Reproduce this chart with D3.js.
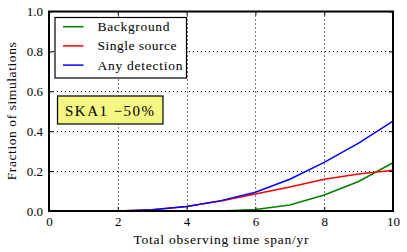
<!DOCTYPE html>
<html>
<head>
<meta charset="utf-8">
<script src="https://cdn.jsdelivr.net/npm/d3@7"></script>
<style>
  body { margin: 0; background: #fff; }
</style>
</head>
<body>
<div id="chart"></div>
<script>
"use strict";
// values, one point per year
let years = [0, 1, 2, 3, 4, 5, 6, 7, 8, 9, 10];
let background = [0, 0, 0, 0, 0, 0, 0.008, 0.03, 0.08, 0.148, 0.242];
let singleSource = [0, 0, 0, 0.006, 0.023, 0.05, 0.085, 0.12, 0.159, 0.185, 0.204];
let anyDetection = [0, 0, 0, 0.006, 0.023, 0.052, 0.094, 0.159, 0.244, 0.34, 0.451];
let seriesNames = ["Background", "Single source", "Any detection"];
let seriesColors = ["#008000", "#ff0000", "#0000ff"];
let xTicks = [0, 2, 4, 6, 8, 10];
let yTicks = [0, 0.2, 0.4, 0.6, 0.8, 1.0];

let fontFam = "Liberation Serif";
let dims = { width: 407, height: 252 };
let margin = { top: 11.5, right: 14, bottom: 41, left: 49 },
    width = dims.width - margin.left - margin.right,
    height = dims.height - margin.top - margin.bottom;

let svg = d3.select("#chart").append("svg")
    .attr("width", dims.width)
    .attr("height", dims.height);

// scales in page coordinates
let x = d3.scaleLinear().domain([0, 10]).range([margin.left, margin.left + width]);
let y = d3.scaleLinear().domain([0, 1]).range([margin.top + height, margin.top]);
let px = v => Math.round(v) + 0.5;

// dotted grid
svg.append("g").selectAll("line")
    .data(xTicks.slice(1, -1))
    .enter().append("line")
    .attr("x1", d => px(x(d))).attr("x2", d => px(x(d)))
    .attr("y1", margin.top).attr("y2", margin.top + height)
    .attr("stroke", "#000")
    .attr("stroke-dasharray", "1,3");
svg.append("g").selectAll("line")
    .data(yTicks.slice(1, -1))
    .enter().append("line")
    .attr("x1", margin.left).attr("x2", margin.left + width)
    .attr("y1", d => px(y(d))).attr("y2", d => px(y(d)))
    .attr("stroke", "#000")
    .attr("stroke-dasharray", "1,3");

// lines
let line = d3.line()
    .x((d, i) => x(years[i]))
    .y(d => y(d));
[background, singleSource, anyDetection].forEach((vals, k) => {
    svg.append("path")
        .datum(vals)
        .attr("d", line)
        .attr("fill", "none")
        .attr("stroke", seriesColors[k])
        .attr("stroke-width", 1.5);
});

// axes (ticks pointing inward, on all four sides)
let bottomAxis = svg.append("g")
    .attr("transform", "translate(0," + (margin.top + height) + ")")
    .call(d3.axisBottom(x).tickValues(xTicks).tickFormat(d3.format("d"))
        .tickSizeInner(-4).tickSizeOuter(0).tickPadding(6));
let topAxis = svg.append("g")
    .attr("transform", "translate(0," + margin.top + ")")
    .call(d3.axisTop(x).tickValues(xTicks).tickFormat("")
        .tickSizeInner(-4).tickSizeOuter(0));
let leftAxis = svg.append("g")
    .attr("transform", "translate(" + margin.left + ",0)")
    .call(d3.axisLeft(y).tickValues(yTicks).tickFormat(d3.format(".1f"))
        .tickSizeInner(-4).tickSizeOuter(0).tickPadding(6));
let rightAxis = svg.append("g")
    .attr("transform", "translate(" + (margin.left + width) + ",0)")
    .call(d3.axisRight(y).tickValues(yTicks).tickFormat("")
        .tickSizeInner(-4).tickSizeOuter(0));
[bottomAxis, topAxis, leftAxis, rightAxis].forEach(a => {
    a.attr("font-family", null).attr("font-size", null);
    a.select(".domain").remove();
    a.selectAll("line").attr("stroke", "#000").attr("stroke-width", 1);
    a.selectAll("text").attr("fill", "#000")
        .attr("font-family", fontFam).attr("font-size", 13);
});

// frame
svg.append("rect")
    .attr("x", margin.left).attr("y", margin.top)
    .attr("width", width).attr("height", height)
    .attr("fill", "none").attr("stroke", "#000").attr("stroke-width", 2);

// axis labels
svg.append("text")
    .attr("x", margin.left + width / 2 - 87.5)
    .attr("y", 244)
    .attr("font-family", fontFam)
    .attr("font-size", 13.5)
    .attr("textLength", 175)
    .attr("lengthAdjust", "spacing")
    .text("Total observing time span/yr");
svg.append("text")
    .attr("transform", "translate(16," + (margin.top + height / 2 + 69) + ") rotate(-90)")
    .attr("font-family", fontFam)
    .attr("font-size", 13.5)
    .attr("textLength", 138)
    .attr("lengthAdjust", "spacing")
    .text("Fraction of simulations");

// legend
let legendWidths = [72, 79, 85];
let legend = svg.append("g");
legend.append("rect")
    .attr("x", 55).attr("y", 17.5)
    .attr("width", 131.5).attr("height", 60.5)
    .attr("fill", "#fff").attr("stroke", "#000").attr("stroke-width", 1.2);
seriesNames.forEach((name, i) => {
    let ly = 26.7 + i * 19.2;
    legend.append("line")
        .attr("x1", 63).attr("x2", 83.5)
        .attr("y1", ly).attr("y2", ly)
        .attr("stroke", seriesColors[i]).attr("stroke-width", 1.5);
    legend.append("text")
        .attr("x", 97.5).attr("y", ly + 4.5)
        .attr("font-family", fontFam)
        .attr("font-size", 13.5)
        .attr("textLength", legendWidths[i])
        .attr("lengthAdjust", "spacing")
        .text(name);
});

// annotation box
svg.append("rect")
    .attr("x", 57.5).attr("y", 96)
    .attr("width", 105.5).attr("height", 28)
    .attr("fill", "#f5f582").attr("stroke", "#000").attr("stroke-width", 1.2);
svg.append("text")
    .attr("x", 65).attr("y", 115.5)
    .attr("font-family", fontFam)
    .attr("font-size", 15)
    .attr("textLength", 89)
    .attr("lengthAdjust", "spacing")
    .text("SKA1  \u221250%");
</script>
</body>
</html>
